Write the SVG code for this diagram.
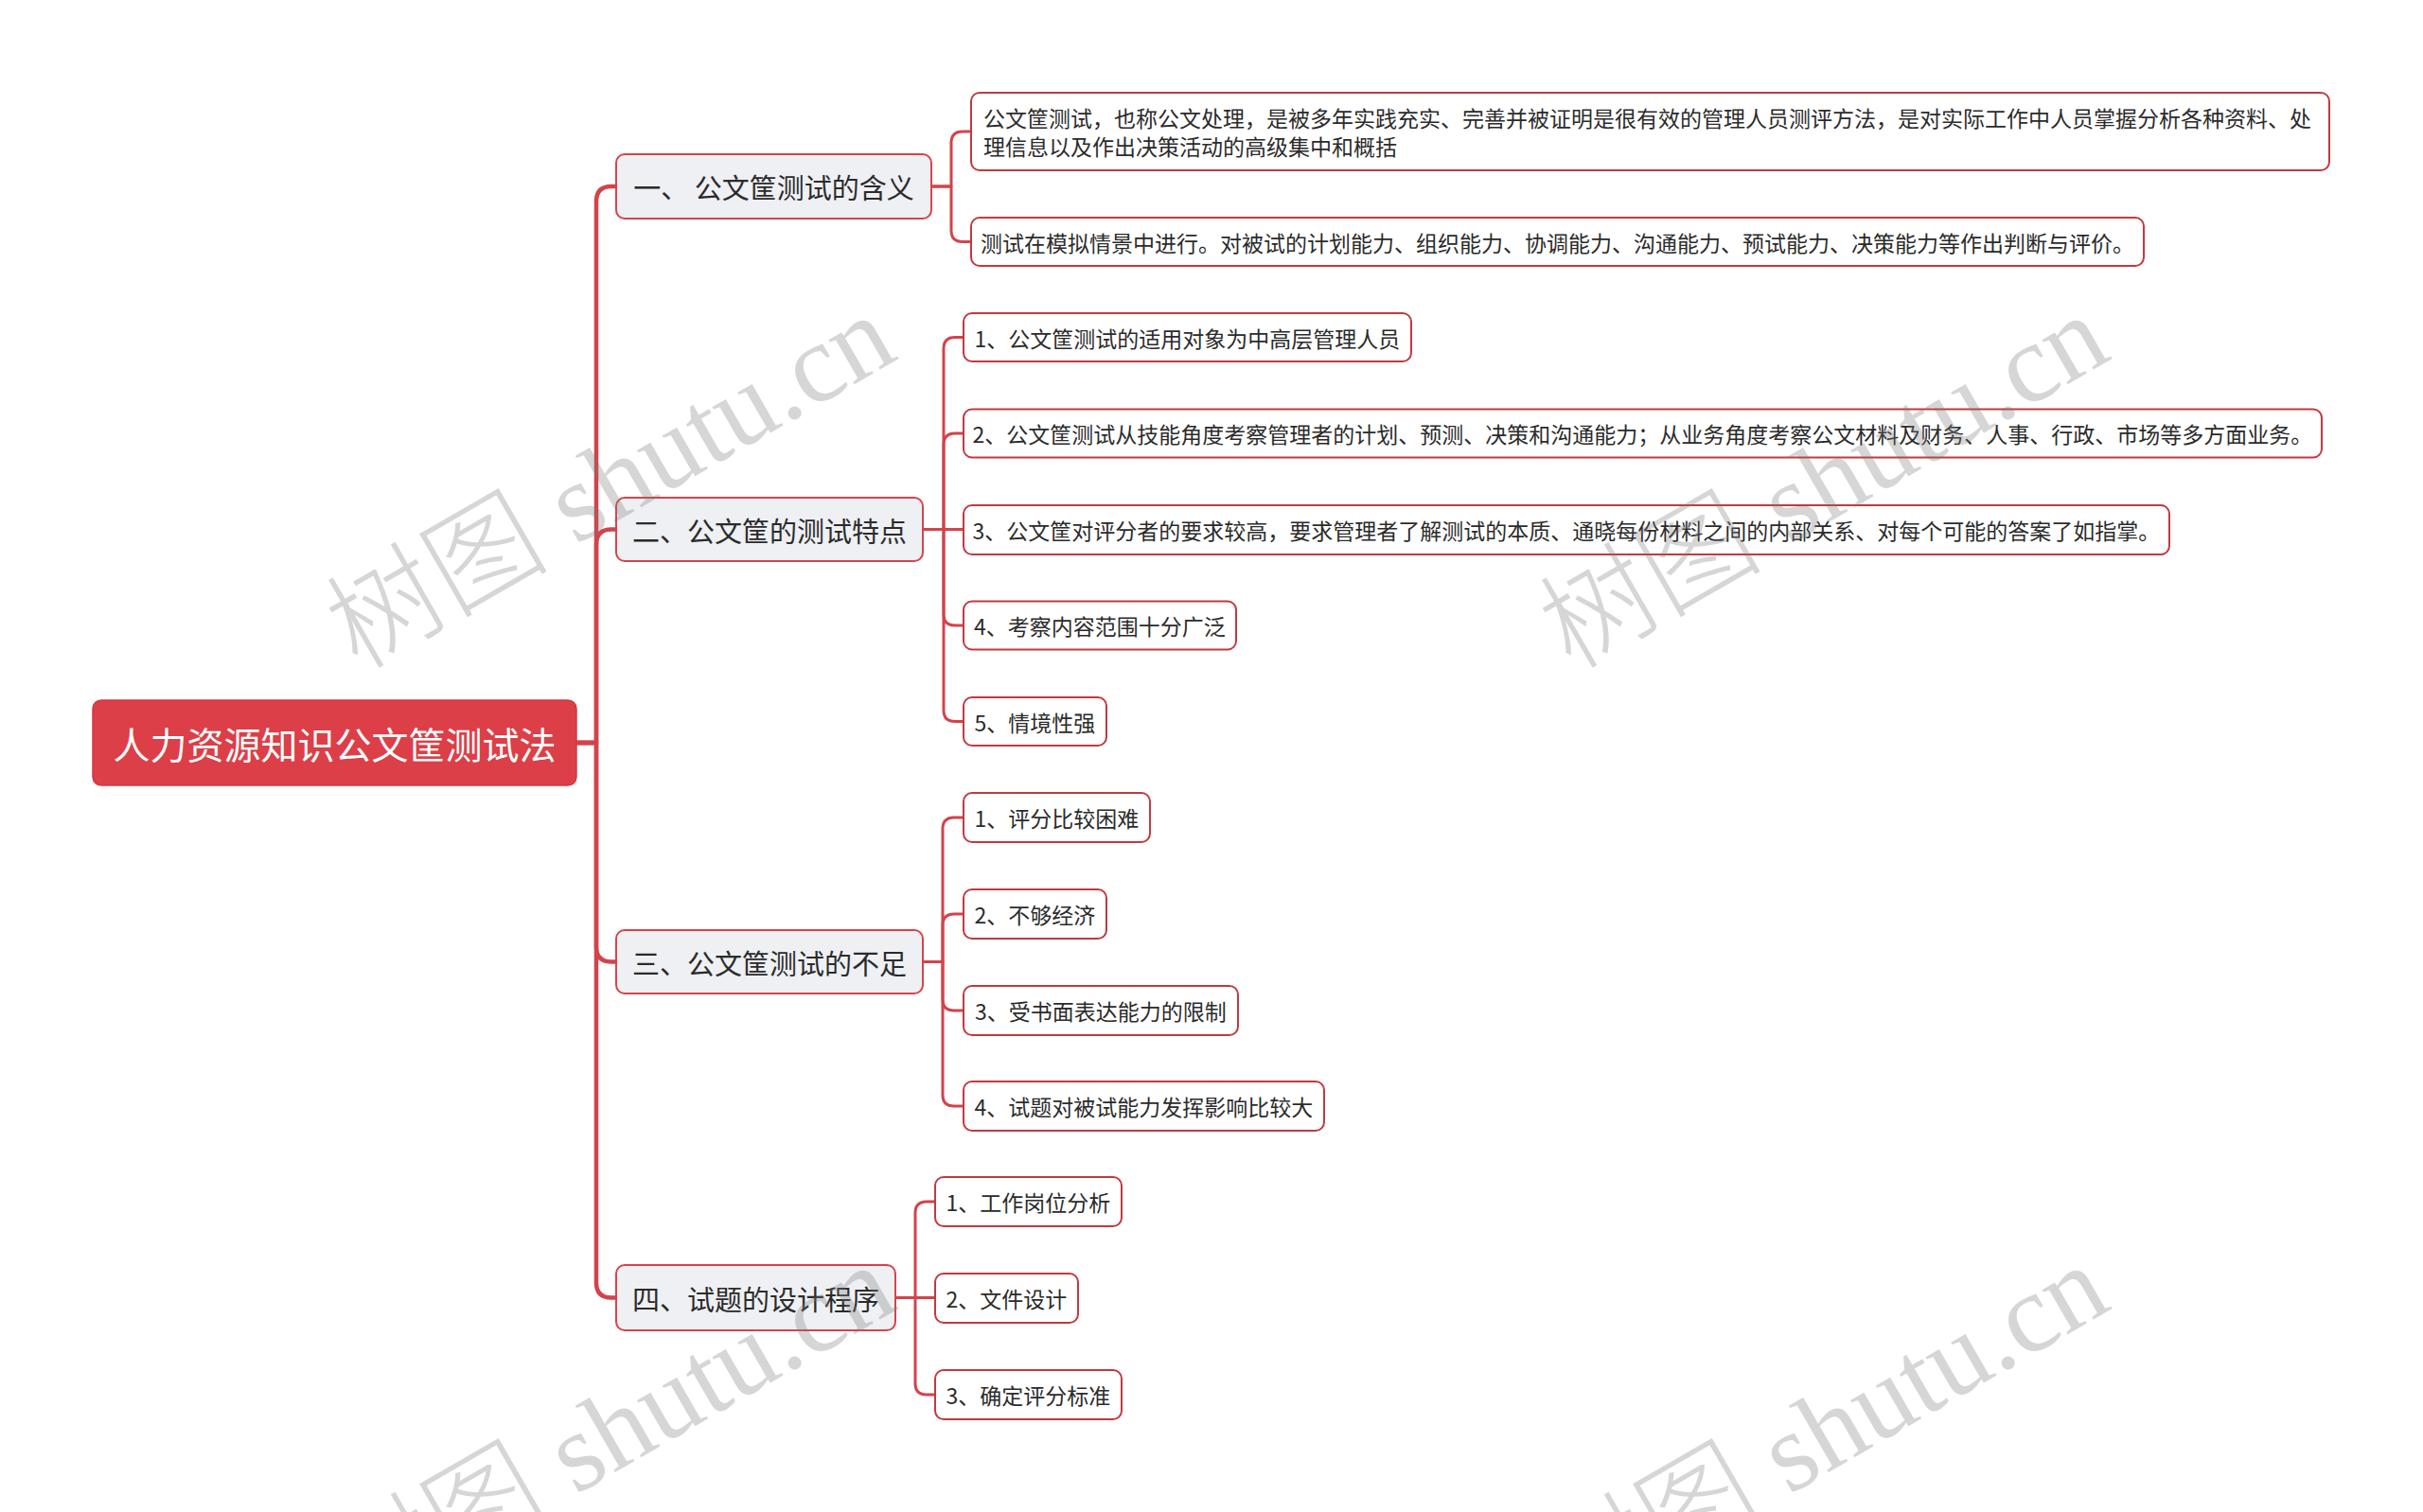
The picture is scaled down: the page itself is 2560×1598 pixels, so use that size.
<svg xmlns="http://www.w3.org/2000/svg" width="2560" height="1598" viewBox="0 0 2560 1598">
<style>
.t{font-family:"Noto Sans CJK SC","Microsoft YaHei","Liberation Sans",sans-serif;fill:#2b2b2b;dominant-baseline:central}
.root rect{fill:#dc3f47;stroke:#d23a42;stroke-width:1.5}
.root text{fill:#ffffff;font-size:39px;text-anchor:middle}
.l1 rect{fill:#eef0f3;stroke:#d8434b;stroke-width:2}
.l1 text{font-size:29px;text-anchor:middle}
.l2 rect{fill:#ffffff;stroke:#c23940;stroke-width:2}
.l2 text{font-size:23px;text-anchor:middle}
.l2 text.s{text-anchor:start}
.c1{fill:none;stroke:#d3434b;stroke-width:4.5;stroke-linecap:round;stroke-linejoin:round}
.c2{fill:none;stroke:#d3434b;stroke-width:3;stroke-linecap:round;stroke-linejoin:round}
.wm{font-family:"Liberation Serif","Noto Sans CJK SC",serif;font-size:118px;font-weight:300;fill:#7a7a7a;opacity:0.3}
</style>
<rect width="2560" height="1598" fill="#ffffff"/>
<g id="connectors">
<path class="c1" d="M609 785 H630 V213 Q630 197 646 197 H651"/>
<path class="c1" d="M609 785 H630 V575.5 Q630 559.5 646 559.5 H651"/>
<path class="c1" d="M609 785 H630 V1000.5 Q630 1016.5 646 1016.5 H651"/>
<path class="c1" d="M609 785 H630 V1355.5 Q630 1371.5 646 1371.5 H651"/>
<path class="c2" d="M984 197 H1005 V151 Q1005 139 1017 139 H1026"/>
<path class="c2" d="M984 197 H1005 V243.5 Q1005 255.5 1017 255.5 H1026"/>
<path class="c2" d="M975 559.5 H997 V368.5 Q997 356.5 1009 356.5 H1018"/>
<path class="c2" d="M975 559.5 H997 V470 Q997 458 1009 458 H1018"/>
<path class="c2" d="M975 559.5 H1018"/>
<path class="c2" d="M975 559.5 H997 V649 Q997 661 1009 661 H1018"/>
<path class="c2" d="M975 559.5 H997 V750.5 Q997 762.5 1009 762.5 H1018"/>
<path class="c2" d="M975 1016.5 H996 V876 Q996 864 1008 864 H1018"/>
<path class="c2" d="M975 1016.5 H996 V978 Q996 966 1008 966 H1018"/>
<path class="c2" d="M975 1016.5 H996 V1056 Q996 1068 1008 1068 H1018"/>
<path class="c2" d="M975 1016.5 H996 V1157 Q996 1169 1008 1169 H1018"/>
<path class="c2" d="M946 1371.5 H967 V1282 Q967 1270 979 1270 H988"/>
<path class="c2" d="M946 1371.5 H988"/>
<path class="c2" d="M946 1371.5 H967 V1462 Q967 1474 979 1474 H988"/>
</g>
<g id="root" class="root">
<rect x="98" y="740" width="511" height="90" rx="9"/>
<text class="t" x="353.5" y="785">人力资源知识公文筐测试法</text>
</g>
<g id="n1" class="l1">
<rect x="651" y="163" width="333" height="68" rx="9"/>
<text class="t" x="817.5" y="197">一、 公文筐测试的含义</text>
</g>
<g id="n2" class="l1">
<rect x="651" y="526" width="324" height="67" rx="9"/>
<text class="t" x="813" y="559.5">二、公文筐的测试特点</text>
</g>
<g id="n3" class="l1">
<rect x="651" y="983" width="324" height="67" rx="9"/>
<text class="t" x="813" y="1016.5">三、公文筐测试的不足</text>
</g>
<g id="n4" class="l1">
<rect x="651" y="1337" width="295" height="69" rx="9"/>
<text class="t" x="798.5" y="1371.5">四、试题的设计程序</text>
</g>
<g id="a1" class="l2">
<rect x="1026" y="98" width="1435" height="82" rx="9"/>
<text class="t s" x="1039" y="124">公文筐测试，也称公文处理，是被多年实践充实、完善并被证明是很有效的管理人员测评方法，是对实际工作中人员掌握分析各种资料、处</text>
<text class="t s" x="1039" y="154">理信息以及作出决策活动的高级集中和概括</text>
</g>
<g id="a2" class="l2">
<rect x="1026" y="230" width="1239" height="51" rx="9"/>
<text class="t" x="1645.5" y="255.5">测试在模拟情景中进行。对被试的计划能力、组织能力、协调能力、沟通能力、预试能力、决策能力等作出判断与评价。</text>
</g>
<g id="b1" class="l2">
<rect x="1018" y="331" width="473" height="51" rx="9"/>
<text class="t" x="1254.5" y="356.5">1、公文筐测试的适用对象为中高层管理人员</text>
</g>
<g id="b2" class="l2">
<rect x="1018" y="432.5" width="1435" height="51" rx="9"/>
<text class="t" x="1735.5" y="458">2、公文筐测试从技能角度考察管理者的计划、预测、决策和沟通能力；从业务角度考察公文材料及财务、人事、行政、市场等多方面业务。</text>
</g>
<g id="b3" class="l2">
<rect x="1018" y="534" width="1274" height="52" rx="9"/>
<text class="t" x="1655" y="560">3、公文筐对评分者的要求较高，要求管理者了解测试的本质、通晓每份材料之间的内部关系、对每个可能的答案了如指掌。</text>
</g>
<g id="b4" class="l2">
<rect x="1018" y="635.5" width="288" height="51" rx="9"/>
<text class="t" x="1162" y="661">4、考察内容范围十分广泛</text>
</g>
<g id="b5" class="l2">
<rect x="1018" y="737" width="151" height="51" rx="9"/>
<text class="t" x="1093.5" y="762.5">5、情境性强</text>
</g>
<g id="c1" class="l2">
<rect x="1018" y="838" width="197" height="52" rx="9"/>
<text class="t" x="1116.5" y="864">1、评分比较困难</text>
</g>
<g id="c2" class="l2">
<rect x="1018" y="940" width="151" height="52" rx="9"/>
<text class="t" x="1093.5" y="966">2、不够经济</text>
</g>
<g id="c3" class="l2">
<rect x="1018" y="1042" width="290" height="52" rx="9"/>
<text class="t" x="1163" y="1068">3、受书面表达能力的限制</text>
</g>
<g id="c4" class="l2">
<rect x="1018" y="1143" width="381" height="52" rx="9"/>
<text class="t" x="1208.5" y="1169">4、试题对被试能力发挥影响比较大</text>
</g>
<g id="d1" class="l2">
<rect x="988" y="1244" width="197" height="52" rx="9"/>
<text class="t" x="1086.5" y="1270">1、工作岗位分析</text>
</g>
<g id="d2" class="l2">
<rect x="988" y="1346" width="151" height="52" rx="9"/>
<text class="t" x="1063.5" y="1372">2、文件设计</text>
</g>
<g id="d3" class="l2">
<rect x="988" y="1448" width="197" height="52" rx="9"/>
<text class="t" x="1086.5" y="1474">3、确定评分标准</text>
</g>
<g id="watermark">
<text class="wm" transform="translate(378 709) rotate(-30)">树图 shutu.cn</text>
<text class="wm" transform="translate(1660 709) rotate(-30)">树图 shutu.cn</text>
<text class="wm" transform="translate(378 1713) rotate(-30)">树图 shutu.cn</text>
<text class="wm" transform="translate(1660 1713) rotate(-30)">树图 shutu.cn</text>
</g>
</svg>
